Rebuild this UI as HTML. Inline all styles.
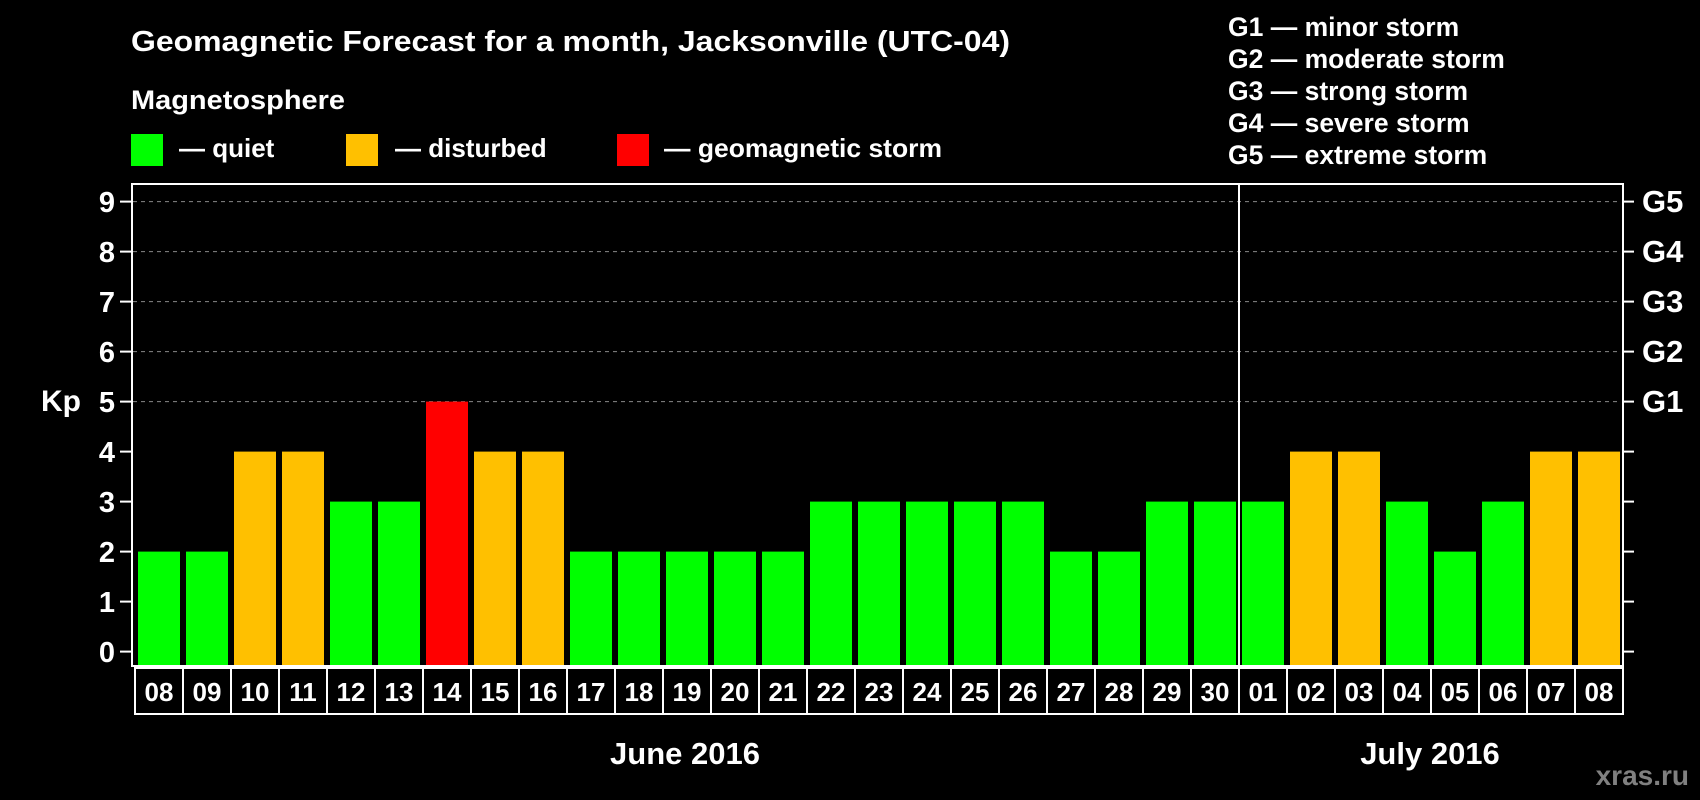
<!DOCTYPE html>
<html><head><meta charset="utf-8"><style>
html,body{margin:0;padding:0;background:#000;}
svg{display:block;}
text{font-family:"Liberation Sans",Arial,sans-serif;font-weight:bold;fill:#fff;}
</style></head><body>
<svg width="1700" height="800" viewBox="0 0 1700 800" xmlns="http://www.w3.org/2000/svg">
<rect width="1700" height="800" fill="#000"/>
<text x="131" y="51" font-size="29" textLength="879" lengthAdjust="spacingAndGlyphs">Geomagnetic Forecast for a month, Jacksonville (UTC-04)</text>
<text x="131" y="109" font-size="27" textLength="214" lengthAdjust="spacingAndGlyphs">Magnetosphere</text>
<rect x="131" y="134" width="32" height="32" fill="#00ff00"/>
<text x="179" y="157" font-size="26">— quiet</text>
<rect x="346" y="134" width="32" height="32" fill="#ffc000"/>
<text x="395" y="157" font-size="26">— disturbed</text>
<rect x="617" y="134" width="32" height="32" fill="#ff0000"/>
<text x="664" y="157" font-size="26" textLength="278" lengthAdjust="spacingAndGlyphs">— geomagnetic storm</text>
<g font-size="26.5">
<text x="1228" y="36">G1 — minor storm</text>
<text x="1228" y="68">G2 — moderate storm</text>
<text x="1228" y="100">G3 — strong storm</text>
<text x="1228" y="132">G4 — severe storm</text>
<text x="1228" y="164">G5 — extreme storm</text>
</g>
<g stroke="#888" stroke-width="1" stroke-dasharray="4,4">
<line x1="133" x2="1621" y1="201.6" y2="201.6"/>
<line x1="133" x2="1621" y1="251.6" y2="251.6"/>
<line x1="133" x2="1621" y1="301.6" y2="301.6"/>
<line x1="133" x2="1621" y1="351.6" y2="351.6"/>
<line x1="133" x2="1621" y1="401.6" y2="401.6"/>
</g>
<g id="bars"></g>
<g stroke="#fff" stroke-width="2">
<rect x="132" y="184" width="1491" height="482" fill="none"/>
<line x1="1239" x2="1239" y1="184" y2="666"/>
</g>
<g id="ticks" stroke="#fff" stroke-width="2"></g>
<g id="ylab" font-size="29" text-anchor="end"></g>
<g font-size="31">
<text x="1642" y="212">G5</text>
<text x="1642" y="262">G4</text>
<text x="1642" y="312">G3</text>
<text x="1642" y="362">G2</text>
<text x="1642" y="412">G1</text>
</g>
<text x="41" y="411" font-size="30">Kp</text>
<g id="days" font-size="26" text-anchor="middle"></g>
<text x="685" y="764" font-size="31" text-anchor="middle">June 2016</text>
<text x="1430" y="764" font-size="31" text-anchor="middle">July 2016</text>
<text x="1689" y="785" font-size="28" text-anchor="end" style="fill:#808080">xras.ru</text>
<script>
var d=[2,2,4,4,3,3,5,4,4,2,2,2,2,2,3,3,3,3,3,2,2,3,3,3,4,4,3,2,3,4,4];
var lab=["08","09","10","11","12","13","14","15","16","17","18","19","20","21","22","23","24","25","26","27","28","29","30","01","02","03","04","05","06","07","08"];
var NS="http://www.w3.org/2000/svg";
function el(t,a,p,txt){var e=document.createElementNS(NS,t);for(var k in a)e.setAttribute(k,a[k]);if(txt)e.textContent=txt;document.getElementById(p).appendChild(e);}
for(var i=0;i<31;i++){
 var v=d[i];var c=v>=5?"#ff0000":(v==4?"#ffc000":"#00ff00");
 var y=651.6-50*v;
 el("rect",{x:138+48*i,y:y,width:42,height:665-y,fill:c},"bars");
 el("rect",{x:135+48*i,y:668,width:48,height:46,fill:"none",stroke:"#fff","stroke-width":2},"bars");
 el("text",{x:159+48*i,y:701},"days",lab[i]);
}
for(var k=0;k<=9;k++){
 var y=651.6-50*k;
 el("line",{x1:120,x2:132,y1:y,y2:y},"ticks");
 el("line",{x1:1623,x2:1634,y1:y,y2:y},"ticks");
 el("text",{x:115,y:y+10.5},"ylab",""+k);
}
</script>
</svg>
</body></html>
